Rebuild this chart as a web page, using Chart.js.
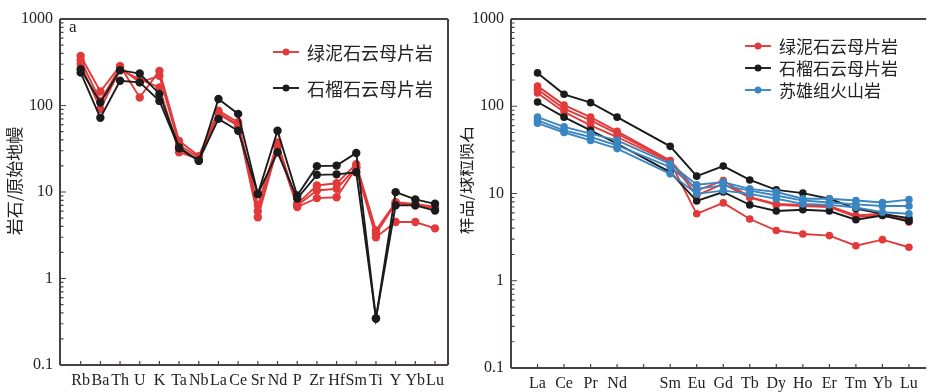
<!DOCTYPE html>
<html>
<head>
<meta charset="utf-8">
<script src="https://cdn.jsdelivr.net/npm/chart.js@4"></script>
<style>
  body { margin: 0; background: #fff; }
  .wrap { position: absolute; top: 0; height: 392px; }
  #wa { left: 0; width: 460px; }
  #wb { left: 460px; width: 470px; }
</style>
</head>
<body>
<div class="wrap" id="wa"><canvas id="chartA"></canvas></div>
<div class="wrap" id="wb"><canvas id="chartB"></canvas></div>
<script>
// panel a: primitive mantle normalised spider diagram
const spiderElems = ['Rb','Ba','Th','U','K','Ta','Nb','La','Ce','Sr','Nd','P','Zr','Hf','Sm','Ti','Y','Yb','Lu'];
const chloriteA1 = [374,145,287,124,251,39,26,87,64,7.0,37.5,7.3,11.9,12.6,21,3.6,7.6,7.3,6.7];
const chloriteA2 = [334,113,275,185,220,35,25,82,60,6.0,34,7.0,10.4,10.9,19.3,3.3,7.4,7.0,6.5];
const chloriteA3 = [301,91,260,200,162,28.8,24,80,58,5.1,33,6.7,8.5,8.7,19,3.0,4.5,4.5,3.8];
const garnetA1 = [263,108,256,234,136,32.8,23,119,80,9.5,51,9.1,19.9,20.2,28.3,0.345,9.96,8.2,7.3];
const garnetA2 = [240,72,193,185,113,32,23,70,51,9.5,28.8,8.4,15.8,16,16.9,0.345,7.0,7.0,6.1];

// panel b: chondrite normalised REE (empty slot = Pm)
const reeElems = ['La','Ce','Pr','Nd','','Sm','Eu','Gd','Tb','Dy','Ho','Er','Tm','Yb','Lu'];
const chloriteB1 = [170,103,75,51.6,null,23.9,10.8,14.1,9.1,7.6,7.4,7.2,5.6,5.85,4.7];
const chloriteB2 = [156,94,69,48.5,null,23.5,9.5,12.9,9.0,7.4,7.2,7.0,5.4,5.6,4.9];
const chloriteB3 = [142,86,60.5,44.4,null,22.9,5.85,7.8,5.1,3.76,3.44,3.29,2.52,2.96,2.42];
const garnetB1 = [241,137,110,75,null,34.7,15.8,20.6,14.3,11.0,10.1,8.7,6.7,5.85,5.2];
const garnetB2 = [112,75,53,37.2,null,17.6,8.2,10.4,7.4,6.3,6.5,6.3,5.0,5.6,4.8];
const suxiongB1 = [75,58,48.5,40.6,null,21.9,12.6,13.5,11.3,10.4,8.7,8.7,8.3,7.9,8.5];
const suxiongB2 = [69,53,44.4,35.6,null,20.1,11.3,12.4,10.8,9.5,8.3,7.9,7.5,7.2,7.2];
const suxiongB3 = [64,50,40.6,32.7,null,16.8,9.9,10.8,9.9,8.7,7.6,7.4,6.9,6.1,5.85];

const yTicks = [0.1, 1, 10, 100, 1000];

const RED = '#e23a3a';
const BLACK = '#1b1b1b';
const BLUE = '#3a86c2';
const FRAME = '#4a4040';
const SERIF = '"Liberation Serif", "DejaVu Serif", serif';
const CJK = '"Noto Sans CJK SC", sans-serif';

function series(values, color, r) {
  return {
    data: values.map((v, i) => ({ x: i + 1, y: v })),
    borderColor: color,
    backgroundColor: color,
    borderWidth: 1.9,
    pointRadius: r,
    pointHoverRadius: r,
    pointBorderWidth: 0,
    spanGaps: true,
    tension: 0
  };
}

// draws frame, inward ticks, panel letter, y title and legend
function decoPlugin(cfg) {
  return {
    id: 'deco',
    afterDraw(chart) {
      const { ctx, chartArea: a, scales: { x, y } } = chart;
      ctx.save();
      ctx.strokeStyle = FRAME;
      ctx.lineWidth = 2;
      ctx.beginPath();
      ctx.moveTo(a.left, a.top); ctx.lineTo(a.right, a.top);
      ctx.moveTo(a.left, a.top); ctx.lineTo(a.left, a.bottom);
      ctx.moveTo(a.left, a.bottom); ctx.lineTo(a.right, a.bottom);
      if (cfg.rightBorder) { ctx.moveTo(a.right, a.top); ctx.lineTo(a.right, a.bottom); }
      ctx.stroke();

      // y ticks (major + minor) pointing inward
      ctx.lineWidth = 1.2;
      ctx.beginPath();
      for (let d = -1; d < 3; d++) {
        for (let m = 1; m <= 10; m++) {
          const v = m * Math.pow(10, d);
          const py = y.getPixelForValue(v);
          const len = (m === 1 || m === 10) ? 6 : 3.5;
          ctx.moveTo(a.left, py); ctx.lineTo(a.left + len, py);
        }
      }
      // x ticks
      for (let i = 1; i <= cfg.nTicks; i++) {
        const px = x.getPixelForValue(i);
        ctx.moveTo(px, a.bottom); ctx.lineTo(px, a.bottom - 4);
      }
      ctx.stroke();

      // panel letter
      ctx.fillStyle = '#222';
      ctx.font = '17px ' + SERIF;
      ctx.textBaseline = 'middle';
      ctx.textAlign = 'left';
      ctx.fillText(cfg.letter, cfg.letterX, cfg.letterY);

      // y title
      ctx.save();
      ctx.translate(cfg.titleX, cfg.titleY);
      ctx.rotate(-Math.PI / 2);
      ctx.textAlign = 'center';
      ctx.font = '17px ' + CJK;
      ctx.fillStyle = '#222';
      ctx.fillText(cfg.title, 0, 0);
      ctx.restore();

      // legend
      cfg.legend.forEach((item, k) => {
        const ly = cfg.legY + k * cfg.legGap;
        ctx.strokeStyle = item.color;
        ctx.fillStyle = item.color;
        ctx.lineWidth = 1.9;
        ctx.beginPath();
        ctx.moveTo(cfg.legX, ly); ctx.lineTo(cfg.legX + 26, ly);
        ctx.stroke();
        ctx.beginPath();
        ctx.arc(cfg.legX + 13, ly, 3.5, 0, Math.PI * 2);
        ctx.fill();
        ctx.fillStyle = '#222';
        ctx.font = cfg.legFont + 'px ' + CJK;
        ctx.textAlign = 'left';
        ctx.fillText(item.text, cfg.legX + 34, ly + 1);
      });
      ctx.restore();
    }
  };
}

function makeOptions(labels, xMin, xMax, yWidth, xHeight, padRight) {
  return {
    responsive: true,
    maintainAspectRatio: false,
    animation: false,
    layout: { padding: { top: 19, right: padRight, bottom: 0, left: 0 } },
    plugins: { legend: { display: false }, tooltip: { enabled: false } },
    scales: {
      x: {
        type: 'linear',
        min: xMin,
        max: xMax,
        grid: { display: false, drawTicks: false },
        border: { display: false },
        afterBuildTicks: s => { s.ticks = labels.map((l, i) => ({ value: i + 1 })); },
        afterFit: s => { s.height = xHeight; },
        ticks: {
          autoSkip: false,
          maxRotation: 0,
          minRotation: 0,
          padding: 6,
          color: '#222',
          font: { family: SERIF, size: 16 },
          callback: v => labels[v - 1] || ''
        }
      },
      y: {
        type: 'logarithmic',
        min: 0.1,
        max: 1000,
        grid: { display: false, drawTicks: false },
        border: { display: false },
        afterBuildTicks: s => { s.ticks = yTicks.map(v => ({ value: v })); },
        afterFit: s => { s.width = yWidth; },
        ticks: {
          padding: 7,
          color: '#222',
          font: { family: SERIF, size: 16 },
          callback: v => String(v)
        }
      }
    }
  };
}

new Chart(document.getElementById('chartA'), {
  type: 'line',
  data: {
    datasets: [
      series(garnetA1, BLACK, 4.2),
      series(garnetA2, BLACK, 4.2),
      series(chloriteA1, RED, 4.2),
      series(chloriteA2, RED, 4.2),
      series(chloriteA3, RED, 4.2)
    ]
  },
  options: makeOptions(spiderElems, -0.05, 19.66, 60, 27, 12),
  plugins: [decoPlugin({
    rightBorder: true, nTicks: spiderElems.length,
    letter: 'a', letterX: 69, letterY: 28,
    title: '岩石/原始地幔', titleX: 15, titleY: 181,
    legX: 273, legY: 52, legGap: 36, legFont: 18,
    legend: [
      { text: '绿泥石云母片岩', color: RED },
      { text: '石榴石云母片岩', color: BLACK }
    ]
  })]
});

new Chart(document.getElementById('chartB'), {
  type: 'line',
  data: {
    datasets: [
      series(suxiongB1, BLUE, 3.8),
      series(suxiongB2, BLUE, 3.8),
      series(suxiongB3, BLUE, 3.8),
      series(garnetB1, BLACK, 3.8),
      series(garnetB2, BLACK, 3.8),
      series(chloriteB1, RED, 3.8),
      series(chloriteB2, RED, 3.8),
      series(chloriteB3, RED, 3.8)
    ]
  },
  options: makeOptions(reeElems, 0, 15.65, 51, 24, 0),
  plugins: [decoPlugin({
    rightBorder: false, nTicks: reeElems.length,
    letter: 'b', letterX: 519, letterY: 34,
    title: '样品/球粒陨石', titleX: 6, titleY: 180,
    legX: 285, legY: 46, legGap: 22, legFont: 17,
    legend: [
      { text: '绿泥石云母片岩', color: RED },
      { text: '石榴石云母片岩', color: BLACK },
      { text: '苏雄组火山岩', color: BLUE }
    ]
  })]
});
</script>
</body>
</html>
